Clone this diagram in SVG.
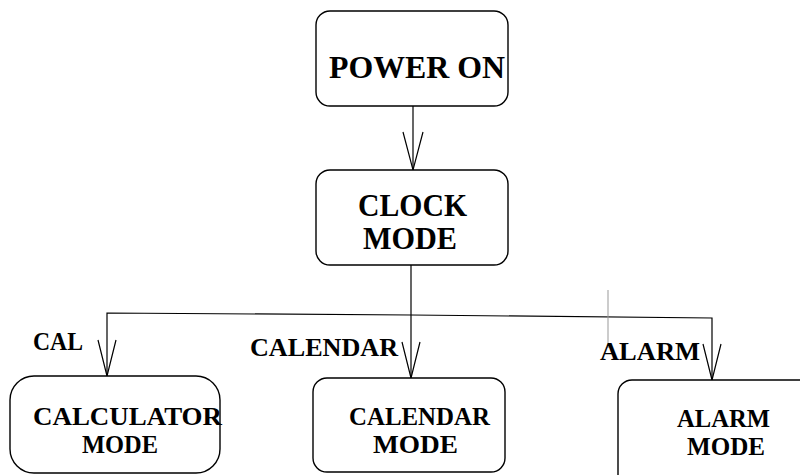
<svg xmlns="http://www.w3.org/2000/svg" width="800" height="475" viewBox="0 0 800 475">
<style>
.box{fill:#fff;stroke:#000;stroke-width:1.4}
.t{font-family:"Liberation Serif","Times New Roman",serif;font-weight:bold;fill:#000}
.big{font-size:32px}
.mid{font-size:25px}
.lab{font-size:26px}
.ln{fill:none;stroke:#000;stroke-width:1.2}
.head{fill:none;stroke:#000;stroke-width:1.2}
</style>
<rect width="800" height="475" fill="#fff"/>
<g id="connectors">
<line class="ln" x1="413" y1="106" x2="413" y2="170"/>
<polyline class="head" points="403,132 413,170 423,132"/>
<line class="ln" x1="411" y1="265" x2="411" y2="378"/>
<polyline class="ln" points="107,376 107,313 411,315 712,318 712,380"/>
<polyline class="head" points="98,340 107,376 116,340"/>
<polyline class="head" points="402,342 411,378 420,342"/>
<polyline class="head" points="703,344 712,380 721,344"/>
<line x1="608" y1="290" x2="608" y2="348" stroke="#999" stroke-width="1"/>
<text class="t lab" x="33" y="350" textLength="50" lengthAdjust="spacingAndGlyphs">CAL</text>
<text class="t lab" x="250" y="356" textLength="148" lengthAdjust="spacingAndGlyphs">CALENDAR</text>
<text class="t lab" x="600" y="360" textLength="100" lengthAdjust="spacingAndGlyphs">ALARM</text>
</g>
<g id="power-on">
<rect class="box" x="316" y="11" width="192" height="95" rx="14"/>
<text class="t big" x="329" y="78" textLength="176" lengthAdjust="spacingAndGlyphs">POWER ON</text>
</g>
<g id="clock-mode">
<rect class="box" x="316" y="170" width="192" height="95" rx="14"/>
<text class="t big" x="358" y="216" textLength="109" lengthAdjust="spacingAndGlyphs">CLOCK</text>
<text class="t big" x="363" y="249" textLength="94" lengthAdjust="spacingAndGlyphs">MODE</text>
</g>
<g id="calculator-mode">
<rect class="box" x="10" y="376" width="210" height="97" rx="24"/>
<text class="t mid" x="33" y="425" textLength="189" lengthAdjust="spacingAndGlyphs">CALCULATOR</text>
<text class="t mid" x="82" y="453" textLength="76" lengthAdjust="spacingAndGlyphs">MODE</text>
</g>
<g id="calendar-mode">
<rect class="box" x="313" y="378" width="192" height="94" rx="14"/>
<text class="t mid" x="349" y="425" textLength="141" lengthAdjust="spacingAndGlyphs">CALENDAR</text>
<text class="t mid" x="373" y="453" textLength="85" lengthAdjust="spacingAndGlyphs">MODE</text>
</g>
<g id="alarm-mode">
<rect class="box" x="618" y="380" width="200" height="110" rx="14"/>
<text class="t mid" x="677" y="427" textLength="93" lengthAdjust="spacingAndGlyphs">ALARM</text>
<text class="t mid" x="687" y="455" textLength="78" lengthAdjust="spacingAndGlyphs">MODE</text>
</g>
</svg>
